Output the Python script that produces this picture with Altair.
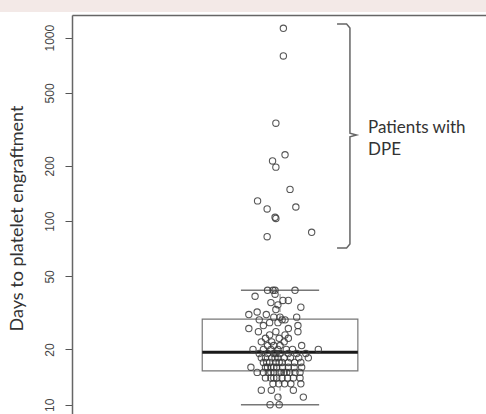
import altair as alt
import pandas as pd

# Days to platelet engraftment (log axis). Patients in the usual range are
# grouped by day; each day has the horizontal jitter positions of its points.
row_days = [42, 40, 39, 37, 36, 35, 34, 33, 32, 31, 30, 29, 28, 27, 26, 25, 24,
            23, 22, 21, 20, 19, 18, 17, 16, 15, 14, 13, 12, 11, 10]
row_jitter = [
    [0.970, 0.983, 0.988, 1.036],
    [0.988],
    [0.940],
    [1.007, 1.020],
    [0.978],
    [0.995],
    [1.050],
    [0.990],
    [0.945],
    [0.925, 0.967],
    [1.040, 0.985, 1.000],
    [0.950, 1.005, 1.012],
    [0.975, 0.995],
    [1.043, 0.960],
    [0.925, 1.020],
    [0.948, 1.043, 0.990],
    [0.975, 1.012],
    [1.020, 0.965, 0.998],
    [0.980, 1.010, 0.955],
    [1.052, 0.985, 1.000, 0.970],
    [0.935, 1.092, 0.978, 0.995, 1.015, 0.960, 1.030],
    [1.062, 0.970, 0.985, 1.000, 1.020, 0.950, 1.040, 0.990],
    [1.068, 0.965, 0.980, 0.995, 1.010, 1.025, 0.955, 1.045, 0.988],
    [0.960, 0.975, 0.990, 1.005, 1.020, 1.035, 0.968, 0.998, 1.050],
    [0.930, 1.052, 0.965, 0.978, 0.992, 1.006, 1.020, 1.034, 0.985, 0.970],
    [0.945, 0.960, 0.972, 0.985, 0.998, 1.010, 1.023, 1.036, 1.048, 0.978, 1.003, 1.016],
    [0.965, 0.978, 0.992, 1.005, 1.018, 1.032, 1.048, 0.985],
    [0.983, 0.997, 1.011, 1.026, 1.050],
    [0.955, 0.979, 1.032],
    [0.995, 1.056],
    [0.976, 0.998],
]

# Patients with delayed platelet engraftment (DPE)
dpe_days = [1125, 795, 342, 230, 213, 197, 149, 129, 119.5, 116.6, 105, 103.5, 87, 82.3]
dpe_jitter = [1.008, 1.008, 0.990, 1.012, 0.982, 0.990, 1.024, 0.946, 1.038, 0.969,
              0.988, 0.990, 1.076, 0.969]

# Box-plot summary
box_low = 10
box_q1 = 15.3
box_median = 19.3
box_q3 = 29.3
box_high = 42

y_ticks = [10, 20, 50, 100, 200, 500, 1000]

# Bracket grouping the DPE patients, and its label
bracket_x = [1.137, 1.160, 1.168, 1.168, 1.184, 1.168, 1.168, 1.160, 1.137]
bracket_y = [1188, 1188, 1130, 302, 295, 288, 75.1, 71.5, 71.5]
label_lines = ["Patients with", "DPE"]
label_y = [322, 244]
label_x = 1.2115

# Layout constants
BOX_HALF = 0.187
CAP_HALF = 0.094
CENTER = 1.0

points = pd.DataFrame(
    [{"x": x, "days": d} for d, xs in zip(row_days, row_jitter) for x in xs]
    + [{"x": x, "days": d} for d, x in zip(dpe_days, dpe_jitter)]
)
box = pd.DataFrame([{
    "left": CENTER - BOX_HALF, "right": CENTER + BOX_HALF,
    "cap_l": CENTER - CAP_HALF, "cap_r": CENTER + CAP_HALF, "center": CENTER,
    "low": box_low, "q1": box_q1, "median": box_median, "q3": box_q3, "high": box_high,
}])
bracket = pd.DataFrame({"x": bracket_x, "y": bracket_y, "order": list(range(len(bracket_x)))})
labels = pd.DataFrame({"text": label_lines, "y": label_y, "x": [label_x] * len(label_lines)})

xscale = alt.Scale(domain=[0.5, 1.495], nice=False, zero=False)
yscale = alt.Scale(type="log", domain=[8.9, 1329], nice=False, zero=False)

xaxis = alt.Axis(orient="top", labels=False, ticks=False, domain=True, grid=False,
                 title=None, domainColor="#666666", domainWidth=1.5)
yaxis = alt.Axis(values=y_ticks, format="d", grid=False, labelAngle=270,
                 labelAlign="center", labelBaseline="alphabetic", labelPadding=12,
                 labelFont="Liberation Sans", labelFontSize=12, labelColor="#444444",
                 tickSize=7, tickColor="#555555", tickWidth=1,
                 domainColor="#666666", domainWidth=1.5, labelOverlap=False,
                 title="Days to platelet engraftment", titleFont="Lato",
                 titleFontSize=18, titleFontWeight="normal", titleColor="#333333",
                 titleAngle=270, titleX=-55, titleY=203, titleAlign="center",
                 titleBaseline="middle")

base_box = alt.Chart(box)

box_rect = base_box.mark_rect(fill="white", fillOpacity=0, stroke="#777777",
                              strokeWidth=1.2).encode(
    x=alt.X("left:Q", scale=xscale, axis=xaxis),
    x2="right:Q",
    y=alt.Y("q1:Q", scale=yscale, axis=yaxis),
    y2="q3:Q",
)
whisker_up = base_box.mark_rule(color="#888888", strokeWidth=1, strokeDash=[4, 3]).encode(
    x="center:Q", y="q3:Q", y2="high:Q")
whisker_dn = base_box.mark_rule(color="#888888", strokeWidth=1, strokeDash=[4, 3]).encode(
    x="center:Q", y="low:Q", y2="q1:Q")
cap_hi = base_box.mark_rule(color="#777777", strokeWidth=1.5).encode(
    x="cap_l:Q", x2="cap_r:Q", y="high:Q")
cap_lo = base_box.mark_rule(color="#777777", strokeWidth=1.5).encode(
    x="cap_l:Q", x2="cap_r:Q", y="low:Q")
median = base_box.mark_rule(color="#1a1a1a", strokeWidth=3).encode(
    x="left:Q", x2="right:Q", y="median:Q")

dots = alt.Chart(points).mark_point(shape="circle", filled=False, size=40,
                                    stroke="#3a3a3a", strokeWidth=1.1, opacity=0.85).encode(
    x="x:Q", y="days:Q")

brace = alt.Chart(bracket).mark_line(color="#666666", strokeWidth=1.5).encode(
    x="x:Q", y="y:Q", order="order:Q")

note = alt.Chart(labels).mark_text(align="left", baseline="middle", font="Lato",
                                   fontSize=17, color="#333333").encode(
    x="x:Q", y="y:Q", text="text:N")

band = alt.Chart(box).mark_rect(color="#f3e9e7").encode(
    x=alt.value(-72), x2=alt.value(414), y=alt.value(-15), y2=alt.value(-3))

chart = alt.layer(
    band, box_rect, whisker_up, whisker_dn, cap_hi, cap_lo, median, dots, brace, note
).properties(
    width=414, height=399,
    padding={"left": 72, "top": 15, "right": 0, "bottom": 0},
    autosize=alt.AutoSizeParams(type="none"),
).configure_view(stroke=None).configure(background="white")

chart.save("out.html", embed_options={"renderer": "svg", "actions": False})
